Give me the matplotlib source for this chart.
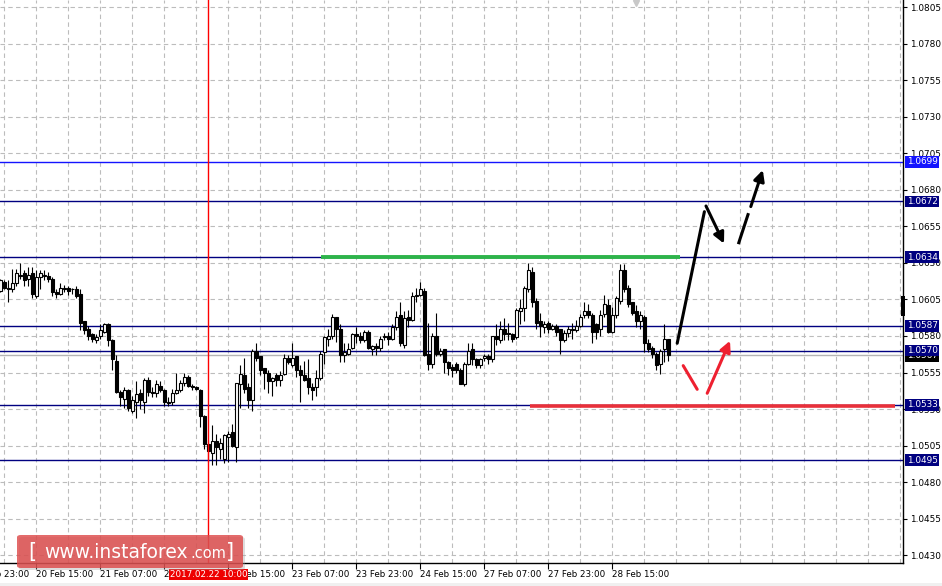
"""EURUSD H1 chart with support / resistance levels, MT4 style."""

import matplotlib

matplotlib.use("Agg")

import matplotlib.pyplot as plt
from matplotlib.patches import FancyBboxPatch, Rectangle
from matplotlib.transforms import blended_transform_factory

NAVY = "#000080"
BLUE = "#1414ff"
GRID = "#bcbcbc"

# hourly candles, bar 0 = 20 Feb 06:00
opens = [
    1.0611, 1.0617, 1.0613, 1.0612, 1.0616, 1.0622, 1.0623, 1.0619, 1.0623, 1.0607,
    1.0620, 1.0621, 1.0621, 1.0619, 1.0610, 1.0609, 1.0612, 1.0613, 1.0612, 1.0612,
    1.0609, 1.0590, 1.0585, 1.0581, 1.0577, 1.0580, 1.0583, 1.0588, 1.0577, 1.0563,
    1.0542, 1.0537, 1.0543, 1.0529, 1.0535, 1.0541, 1.0535, 1.0550, 1.0542, 1.0541,
    1.0546, 1.0543, 1.0535, 1.0535, 1.0541, 1.0543, 1.0548, 1.0552, 1.0546, 1.0545,
    1.0543, 1.0525, 1.0506, 1.0500, 1.0508, 1.0503, 1.0496, 1.0511, 1.0514, 1.0504,
    1.0547, 1.0553, 1.0545, 1.0536, 1.0570, 1.0566, 1.0558, 1.0555, 1.0549, 1.0553,
    1.0550, 1.0554, 1.0565, 1.0560, 1.0566, 1.0557, 1.0553, 1.0551, 1.0545, 1.0545,
    1.0551, 1.0569, 1.0578, 1.0580, 1.0593, 1.0585, 1.0567, 1.0568, 1.0572, 1.0581,
    1.0580, 1.0577, 1.0583, 1.0571, 1.0573, 1.0572, 1.0580, 1.0580, 1.0578, 1.0586,
    1.0594, 1.0574, 1.0593, 1.0591, 1.0607, 1.0608, 1.0611, 1.0568, 1.0561, 1.0580,
    1.0568, 1.0571, 1.0562, 1.0559, 1.0561, 1.0557, 1.0547, 1.0561, 1.0571, 1.0564,
    1.0560, 1.0565, 1.0566, 1.0564, 1.0580, 1.0577, 1.0585, 1.0582, 1.0581, 1.0579,
    1.0597, 1.0599, 1.0612, 1.0624, 1.0604, 1.0590, 1.0586, 1.0589, 1.0585, 1.0587,
    1.0585, 1.0577, 1.0582, 1.0585, 1.0584, 1.0587, 1.0594, 1.0597, 1.0594, 1.0588,
    1.0585, 1.0595, 1.0601, 1.0583, 1.0594, 1.0604, 1.0625, 1.0613, 1.0603, 1.0597,
    1.0590, 1.0593, 1.0575, 1.0572, 1.0568, 1.0561, 1.0571, 1.0578,
]
highs = [
    1.0619, 1.0618, 1.0618, 1.0626, 1.0626, 1.0630, 1.0625, 1.0627, 1.0627, 1.0625,
    1.0625, 1.0625, 1.0624, 1.0620, 1.0612, 1.0616, 1.0615, 1.0614, 1.0613, 1.0614,
    1.0612, 1.0590, 1.0587, 1.0582, 1.0581, 1.0588, 1.0589, 1.0589, 1.0578, 1.0567,
    1.0543, 1.0545, 1.0544, 1.0539, 1.0549, 1.0544, 1.0551, 1.0552, 1.0545, 1.0550,
    1.0549, 1.0544, 1.0538, 1.0544, 1.0555, 1.0550, 1.0555, 1.0553, 1.0547, 1.0546,
    1.0544, 1.0526, 1.0509, 1.0519, 1.0513, 1.0510, 1.0513, 1.0515, 1.0520, 1.0548,
    1.0560, 1.0565, 1.0548, 1.0571, 1.0575, 1.0566, 1.0558, 1.0557, 1.0552, 1.0555,
    1.0556, 1.0568, 1.0567, 1.0575, 1.0566, 1.0560, 1.0563, 1.0564, 1.0548, 1.0557,
    1.0570, 1.0580, 1.0585, 1.0595, 1.0593, 1.0588, 1.0575, 1.0575, 1.0582, 1.0586,
    1.0583, 1.0584, 1.0584, 1.0574, 1.0575, 1.0580, 1.0582, 1.0583, 1.0588, 1.0597,
    1.0603, 1.0597, 1.0598, 1.0610, 1.0613, 1.0617, 1.0613, 1.0589, 1.0582, 1.0596,
    1.0572, 1.0571, 1.0563, 1.0561, 1.0562, 1.0558, 1.0562, 1.0575, 1.0575, 1.0565,
    1.0565, 1.0568, 1.0568, 1.0580, 1.0588, 1.0590, 1.0592, 1.0589, 1.0582, 1.0599,
    1.0605, 1.0614, 1.0630, 1.0627, 1.0606, 1.0596, 1.0590, 1.0590, 1.0588, 1.0588,
    1.0585, 1.0584, 1.0587, 1.0589, 1.0591, 1.0595, 1.0603, 1.0602, 1.0596, 1.0589,
    1.0598, 1.0608, 1.0605, 1.0600, 1.0607, 1.0629, 1.0629, 1.0615, 1.0603, 1.0601,
    1.0597, 1.0594, 1.0578, 1.0573, 1.0569, 1.0571, 1.0588, 1.0578,
]
lows = [
    1.0610, 1.0612, 1.0603, 1.0610, 1.0614, 1.0619, 1.0614, 1.0614, 1.0606, 1.0606,
    1.0612, 1.0618, 1.0617, 1.0607, 1.0606, 1.0608, 1.0610, 1.0608, 1.0609, 1.0606,
    1.0584, 1.0581, 1.0577, 1.0576, 1.0575, 1.0578, 1.0582, 1.0573, 1.0557, 1.0541,
    1.0532, 1.0531, 1.0529, 1.0527, 1.0524, 1.0530, 1.0527, 1.0539, 1.0538, 1.0538,
    1.0542, 1.0532, 1.0532, 1.0533, 1.0540, 1.0542, 1.0546, 1.0545, 1.0543, 1.0543,
    1.0518, 1.0503, 1.0494, 1.0492, 1.0492, 1.0496, 1.0493, 1.0494, 1.0504, 1.0494,
    1.0531, 1.0541, 1.0531, 1.0529, 1.0563, 1.0553, 1.0544, 1.0541, 1.0539, 1.0546,
    1.0546, 1.0553, 1.0561, 1.0559, 1.0552, 1.0535, 1.0549, 1.0540, 1.0536, 1.0539,
    1.0550, 1.0561, 1.0573, 1.0578, 1.0576, 1.0562, 1.0562, 1.0567, 1.0571, 1.0575,
    1.0575, 1.0576, 1.0571, 1.0567, 1.0567, 1.0570, 1.0577, 1.0574, 1.0577, 1.0584,
    1.0573, 1.0572, 1.0586, 1.0590, 1.0603, 1.0607, 1.0566, 1.0557, 1.0558, 1.0566,
    1.0566, 1.0555, 1.0553, 1.0552, 1.0555, 1.0547, 1.0546, 1.0560, 1.0560, 1.0558,
    1.0558, 1.0563, 1.0561, 1.0562, 1.0574, 1.0575, 1.0577, 1.0577, 1.0576, 1.0578,
    1.0588, 1.0590, 1.0610, 1.0600, 1.0585, 1.0579, 1.0582, 1.0582, 1.0584, 1.0580,
    1.0568, 1.0576, 1.0579, 1.0578, 1.0583, 1.0586, 1.0592, 1.0592, 1.0575, 1.0578,
    1.0580, 1.0593, 1.0582, 1.0582, 1.0592, 1.0602, 1.0610, 1.0600, 1.0594, 1.0586,
    1.0585, 1.0569, 1.0569, 1.0565, 1.0557, 1.0554, 1.0562, 1.0563,
]
closes = [
    1.0618, 1.0613, 1.0612, 1.0616, 1.0623, 1.0621, 1.0618, 1.0622, 1.0609, 1.0620,
    1.0623, 1.0622, 1.0619, 1.0610, 1.0609, 1.0613, 1.0613, 1.0611, 1.0612, 1.0607,
    1.0589, 1.0584, 1.0580, 1.0578, 1.0579, 1.0584, 1.0588, 1.0577, 1.0564, 1.0542,
    1.0538, 1.0543, 1.0531, 1.0536, 1.0540, 1.0536, 1.0550, 1.0542, 1.0541, 1.0547,
    1.0543, 1.0535, 1.0534, 1.0541, 1.0543, 1.0548, 1.0552, 1.0546, 1.0545, 1.0544,
    1.0525, 1.0506, 1.0501, 1.0508, 1.0504, 1.0507, 1.0512, 1.0513, 1.0505, 1.0548,
    1.0554, 1.0544, 1.0536, 1.0570, 1.0565, 1.0557, 1.0555, 1.0549, 1.0551, 1.0550,
    1.0553, 1.0565, 1.0562, 1.0565, 1.0557, 1.0553, 1.0550, 1.0545, 1.0543, 1.0551,
    1.0568, 1.0579, 1.0580, 1.0593, 1.0585, 1.0567, 1.0569, 1.0571, 1.0581, 1.0580,
    1.0577, 1.0583, 1.0572, 1.0573, 1.0572, 1.0578, 1.0579, 1.0578, 1.0586, 1.0593,
    1.0575, 1.0592, 1.0591, 1.0607, 1.0608, 1.0612, 1.0567, 1.0561, 1.0580, 1.0568,
    1.0570, 1.0562, 1.0558, 1.0557, 1.0557, 1.0547, 1.0561, 1.0570, 1.0564, 1.0560,
    1.0564, 1.0566, 1.0564, 1.0580, 1.0578, 1.0585, 1.0581, 1.0581, 1.0578, 1.0598,
    1.0599, 1.0613, 1.0625, 1.0603, 1.0589, 1.0587, 1.0588, 1.0585, 1.0587, 1.0583,
    1.0577, 1.0582, 1.0585, 1.0584, 1.0587, 1.0593, 1.0597, 1.0594, 1.0583, 1.0583,
    1.0594, 1.0602, 1.0583, 1.0594, 1.0606, 1.0625, 1.0612, 1.0602, 1.0596, 1.0590,
    1.0594, 1.0575, 1.0571, 1.0568, 1.0560, 1.0570, 1.0578, 1.0567,
]

# time axis labels (bar index, text)
time_ticks = [-7, 9, 25, 41, 57, 73, 89, 105, 121, 137, 153]
time_labels = [
    "17 Feb 23:00", "20 Feb 15:00", "21 Feb 07:00", "21 Feb 23:00", "22 Feb 15:00",
    "23 Feb 07:00", "23 Feb 23:00", "24 Feb 15:00", "27 Feb 07:00", "27 Feb 23:00",
    "28 Feb 15:00",
]
price_ticks = [1.0430, 1.0455, 1.0480, 1.0505, 1.0530, 1.0555, 1.0580, 1.0605,
               1.0630, 1.0655, 1.0680, 1.0705, 1.0730, 1.0755, 1.0780, 1.0805]
levels = [1.0699, 1.0672, 1.0634, 1.0587, 1.0570, 1.0533, 1.0495]
marker_bar = 52          # 2017.02.22 10:00
marker_text = "2017.02.22 10:00"


def draw_candles(ax):
    n = len(closes)
    xs = list(range(n))
    ax.vlines(xs, lows, highs, color="black", linewidth=0.8, zorder=3)
    for i in xs:
        o, c = opens[i], closes[i]
        bottom = min(o, c)
        height = max(abs(c - o), 0.00004)
        face = "white" if c > o else "black"
        ax.add_patch(Rectangle((i - 0.38, bottom), 0.76, height, facecolor=face,
                               edgecolor="black", linewidth=0.8, zorder=4))


def main():
    fig = plt.figure(figsize=(9.42, 5.86), dpi=100)
    fig.patch.set_facecolor("white")
    ax = fig.add_axes([0, 23 / 586, 903 / 942, 563 / 586])
    ax.set_xlim(-0.1, 225.65)
    ax.set_ylim(1.04247, 1.08098)

    for s in ("left", "top"):
        ax.spines[s].set_visible(False)
    for s in ("right", "bottom"):
        ax.spines[s].set_linewidth(1.0)

    # grid
    for p in price_ticks:
        ax.axhline(p, color=GRID, linewidth=0.8, linestyle=(0, (4, 3)), zorder=1)
    for b in range(1, 226, 8):
        ax.axvline(b, color=GRID, linewidth=0.8, linestyle=(0, (4, 3)), zorder=1)

    # level lines
    for lv in levels:
        col = BLUE if lv == 1.0699 else NAVY
        ax.axhline(lv, color=col, linewidth=1.0, zorder=2)
    ax.axhline(closes[-1], color="#b4b4b4", linewidth=1.0, zorder=2)

    ax.axvline(marker_bar, color="red", linewidth=1.0, zorder=5)

    draw_candles(ax)

    # green resistance and red support strokes
    ax.plot([80.25, 170], [1.06338, 1.06338], color="#2db34a", linewidth=2.8,
            solid_capstyle="butt", zorder=6)
    ax.plot([132.5, 223.75], [1.05318, 1.05318], color="#e8303a", linewidth=2.6,
            solid_capstyle="butt", zorder=6)

    # scenario arrows
    ax.plot([169.2, 176.0], [1.0575, 1.0665], color="black", linewidth=2.2,
            solid_capstyle="round", zorder=7)
    ax.annotate("", xy=(180.9, 1.06432), xytext=(176.4, 1.06689),
                arrowprops=dict(arrowstyle="-|>", color="black", lw=2.2,
                                mutation_scale=16, shrinkA=0, shrinkB=0), zorder=7)
    ax.plot([184.6, 186.9], [1.06438, 1.06630], color="black", linewidth=2.2, zorder=7)
    ax.annotate("", xy=(190.6, 1.06935), xytext=(187.6, 1.06685),
                arrowprops=dict(arrowstyle="-|>", color="black", lw=2.2,
                                mutation_scale=16, shrinkA=0, shrinkB=0), zorder=7)
    ax.plot([170.7, 174.2], [1.05597, 1.05435], color="#ee2030", linewidth=2.2,
            solid_capstyle="round", zorder=7)
    ax.annotate("", xy=(182.4, 1.05767), xytext=(176.7, 1.05408),
                arrowprops=dict(arrowstyle="-|>", color="#ee2030", lw=2.2,
                                mutation_scale=16, shrinkA=0, shrinkB=0), zorder=7)

    # right price axis
    ax.yaxis.tick_right()
    ax.set_yticks(price_ticks)
    ax.set_yticklabels([f"{p:.4f}" for p in price_ticks])
    ax.tick_params(axis="y", length=3, width=0.8, pad=2, labelsize=6.4, colors="black")
    ax.set_xticks([t for t in time_ticks if t >= 0])
    ax.set_xticklabels([])
    ax.tick_params(axis="x", length=4, width=0.8)

    ytr = blended_transform_factory(ax.transAxes, ax.transData)
    ax.text(1.004, closes[-1] - 0.00005, f"{closes[-1]:.4f}", transform=ytr, ha="left",
            va="center", fontsize=6.4, color="white", clip_on=False, zorder=8,
            bbox=dict(boxstyle="square,pad=0.15", facecolor="black", edgecolor="none"))
    for lv in levels:
        col = BLUE if lv == 1.0699 else NAVY
        ax.text(1.004, lv, f"{lv:.4f}", transform=ytr, ha="left", va="center",
                fontsize=6.4, color="white", clip_on=False, zorder=9,
                bbox=dict(boxstyle="square,pad=0.15", facecolor=col, edgecolor="none"))

    # time labels
    xtr = blended_transform_factory(ax.transData, ax.transAxes)
    for t, lab in zip(time_ticks, time_labels):
        ax.text(t, -0.012, lab, transform=xtr, ha="left", va="top", fontsize=6.3,
                clip_on=False, zorder=8)
    ax.text(marker_bar, -0.0125, marker_text, transform=xtr, ha="center", va="top",
            fontsize=6.3, color="white", clip_on=False, zorder=12,
            bbox=dict(boxstyle="square,pad=0.12", facecolor="#ee0000", edgecolor="none"))

    # chart shift marker at top
    ax.plot([159], [0.995], marker="v", color="#c8c8c8", markersize=4,
            transform=xtr, clip_on=False, zorder=8)

    # small black marker on the price scale
    fig.patches.append(Rectangle((901 / 942, 1 - 316 / 586), 4 / 942, 20 / 586,
                                 transform=fig.transFigure, facecolor="black",
                                 edgecolor="none", zorder=10))
    fig.patches.append(Rectangle((0, 0), 1, 3 / 586, transform=fig.transFigure,
                                 facecolor="#f0f0f0", edgecolor="none", zorder=0))

    # watermark
    fig.patches.append(FancyBboxPatch((19 / 942, 1 - 570 / 586), 226 / 942, 33 / 586,
                                      boxstyle="round,pad=0,rounding_size=0.004",
                                      transform=fig.transFigure, facecolor="#a0a0a0",
                                      edgecolor="none", alpha=0.35, zorder=10))
    fig.patches.append(FancyBboxPatch((17 / 942, 1 - 568 / 586), 226 / 942, 33 / 586,
                                      boxstyle="round,pad=0,rounding_size=0.004",
                                      transform=fig.transFigure, facecolor="#dd4a4a",
                                      edgecolor="none", alpha=0.82, zorder=11))
    yc = 1 - 552 / 586
    fig.text(28 / 942, yc, "[", fontsize=15, color="white", ha="left", va="center",
             zorder=12)
    fig.text(44 / 942, yc, "www.instaforex", fontsize=13.5, color="white", ha="left",
             va="center", zorder=12)
    fig.text(190 / 942, yc - 0.002, ".com", fontsize=10.5, color="white", ha="left",
             va="center", zorder=12)
    fig.text(226 / 942, yc, "]", fontsize=15, color="white", ha="left", va="center",
             zorder=12)

    fig.savefig("out.png", dpi=100, facecolor=fig.get_facecolor())
    plt.close(fig)


if __name__ == "__main__":
    main()
